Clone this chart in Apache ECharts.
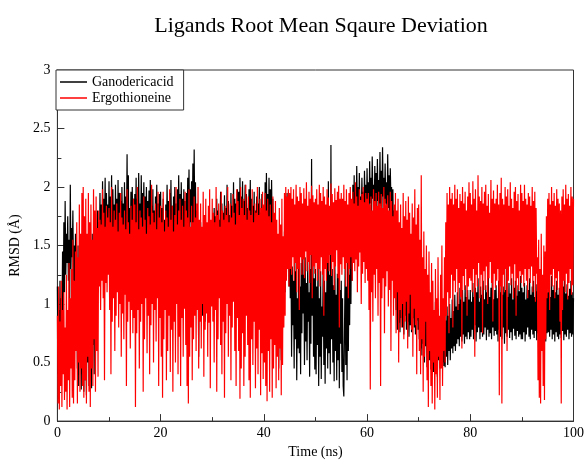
<!DOCTYPE html>
<html>
<head>
<meta charset="utf-8">
<script src="https://cdn.jsdelivr.net/npm/echarts@6/dist/echarts.min.js"></script>
<style>
  html, body { margin: 0; padding: 0; background: #fff; }
  #chart { width: 587px; height: 464px; }
</style>
</head>
<body>
<div id="chart"></div>
<script>
  // time step between samples (ns)
  var timeStep = 0.125
  var seriesNames = ['Ganodericacid', 'Ergothioneine']
  var xTicks = [0, 20, 40, 60, 80, 100]
  var yTicks = [0, 0.5, 1, 1.5, 2, 2.5, 3]

  // RMSD of Ganodericacid (4 lines = 5 ns)
  var ganodericacid = [
    1.15, 0.40, 0.95, 0.30, 1.20, 0.55, 1.05, 0.80, 1.45, 0.90,
    1.70, 1.10, 1.88, 1.25, 1.60, 1.35, 1.75, 1.20, 1.55, 0.95,
    2.02, 1.30, 1.65, 1.40, 1.80, 1.20, 1.50, 0.85, 1.60, 0.70,
    1.35, 0.45, 1.50, 0.30, 1.20, 0.55, 0.95, 0.27, 1.30, 0.40,
    1.10, 0.25, 1.40, 0.35, 0.90, 0.22, 1.25, 0.50, 1.55, 0.30,
    1.05, 0.45, 1.35, 0.28, 1.60, 0.65, 1.20, 0.40, 1.50, 0.80,
    1.65, 0.95, 1.80, 1.10, 1.70, 1.30, 1.95, 1.25, 1.85, 1.45,
    2.05, 1.35, 1.90, 1.55, 2.08, 1.40, 1.95, 1.60, 1.85, 1.50,
    2.05, 1.45, 1.92, 1.60, 2.10, 1.35, 1.98, 1.55, 1.85, 1.40,
    2.02, 1.62, 1.90, 1.30, 2.06, 1.50, 1.95, 1.65, 1.88, 1.42,
    2.00, 1.58, 1.86, 1.35, 2.04, 1.50, 1.92, 1.60, 2.28, 1.45,
    2.10, 1.30, 1.82, 1.55, 1.96, 1.40, 2.00, 1.65, 1.90, 1.48,
    1.94, 1.52, 2.08, 1.38, 1.90, 1.60, 2.12, 1.45, 1.86, 1.58,
    2.10, 1.50, 1.95, 1.66, 2.04, 1.40, 1.92, 1.55, 2.00, 1.32,
    1.88, 1.60, 1.97, 1.48, 2.06, 1.54, 1.84, 1.42, 1.98, 1.25,
    1.80, 1.50, 1.92, 1.38, 2.02, 1.55, 1.86, 1.30, 1.94, 1.46,
    1.96, 1.30, 1.82, 1.22, 1.90, 1.40, 1.72, 1.26, 1.85, 1.48,
    2.02, 1.55, 1.88, 1.35, 1.95, 1.62, 2.06, 1.50, 1.84, 1.40,
    1.92, 1.58, 2.00, 1.44, 1.86, 1.38, 1.98, 1.56, 2.10, 1.64,
    1.94, 1.50, 2.04, 1.60, 1.90, 1.46, 1.98, 1.52, 1.88, 1.48,
    1.95, 1.58, 2.08, 1.66, 2.15, 1.52, 1.98, 1.70, 2.05, 1.60,
    2.20, 1.55, 2.32, 1.62, 2.04, 1.45, 1.80, 1.30, 1.65, 0.55,
    1.40, 0.95, 1.70, 1.05, 1.50, 0.90, 1.62, 1.10, 1.38, 0.85,
    1.58, 0.98, 1.45, 1.12, 1.66, 0.92, 1.35, 1.05, 1.55, 1.20,
    1.30, 1.68, 1.20, 1.82, 1.42, 1.75, 1.48, 1.90, 1.35, 1.80,
    1.55, 1.72, 1.62, 1.96, 1.40, 1.86, 1.52, 1.78, 1.58, 1.93,
    1.36, 1.82, 1.48, 2.02, 1.44, 1.88, 1.60, 1.76, 1.38, 1.95,
    1.55, 1.84, 1.46, 2.04, 1.50, 1.90, 1.42, 1.86, 1.62, 1.98,
    1.58, 1.96, 1.42, 2.08, 1.55, 1.92, 1.66, 2.05, 1.48, 1.88,
    1.70, 2.02, 1.52, 1.94, 1.62, 1.82, 1.45, 1.98, 1.58, 2.06,
    1.40, 1.90, 1.64, 1.84, 1.50, 1.96, 1.36, 1.80, 1.56, 1.92,
    1.44, 1.86, 1.62, 2.00, 1.38, 1.78, 1.52, 1.94, 1.34, 1.76,
    1.84, 1.30, 2.04, 1.52, 2.12, 1.62, 1.94, 1.44, 2.08, 1.56,
    1.98, 1.25, 2.06, 1.60, 1.90, 1.38, 1.72, 1.05, 1.55, 0.88,
    1.40, 0.62, 1.25, 0.45, 1.10, 0.70, 0.95, 0.52, 1.45, 0.80,
    1.30, 0.95, 1.62, 1.10, 1.80, 1.25, 1.95, 1.40, 1.70, 1.15,
    1.90, 1.05, 1.45, 0.55, 1.32, 0.82, 1.20, 0.45, 1.38, 0.70,
    1.28, 0.35, 1.05, 0.62, 1.42, 0.58, 1.15, 0.40, 1.35, 0.75,
    1.85, 0.92, 1.25, 0.48, 1.40, 0.68, 1.18, 0.52, 1.36, 0.85,
    1.10, 0.38, 1.30, 0.66, 2.24, 0.90, 1.45, 0.55, 1.22, 0.44,
    1.30, 0.40, 1.15, 0.65, 1.40, 0.30, 1.05, 0.55, 1.28, 0.36,
    0.98, 0.72, 1.34, 0.48, 1.20, 0.32, 1.10, 0.62, 1.38, 0.45,
    2.05, 0.58, 1.25, 0.40, 2.36, 0.70, 1.30, 0.50, 1.16, 0.34,
    1.42, 0.60, 1.08, 0.35, 1.26, 0.52, 1.35, 0.28, 1.12, 0.66,
    1.20, 0.42, 1.05, 0.30, 0.21, 0.75, 1.30, 0.48, 1.15, 0.35,
    1.40, 0.60, 1.25, 0.82, 1.55, 1.00, 1.85, 1.20, 2.02, 1.45,
    2.10, 1.62, 1.95, 1.70, 2.18, 1.76, 2.00, 1.60, 2.12, 1.82,
    1.92, 1.68, 2.08, 1.78, 1.96, 1.72, 2.14, 1.84, 2.02, 1.75,
    2.16, 1.80, 2.04, 1.72, 2.22, 1.86, 2.08, 1.76, 2.26, 1.90,
    2.02, 1.74, 2.18, 1.82, 2.12, 1.70, 2.24, 1.88, 2.06, 1.78,
    2.30, 1.84, 2.14, 1.76, 2.34, 1.92, 2.08, 1.80, 2.20, 1.86,
    2.04, 1.74, 2.28, 1.82, 2.10, 1.70, 2.16, 1.88, 2.00, 1.64,
    1.98, 1.55, 1.80, 1.25, 1.45, 0.95, 1.26, 0.78, 1.18, 0.84,
    1.24, 0.76, 1.12, 0.88, 1.22, 0.80, 1.08, 0.74, 1.20, 0.90,
    1.15, 0.78, 1.25, 0.85, 1.06, 0.72, 1.18, 0.82, 1.10, 0.76,
    1.22, 0.88, 1.04, 0.80, 1.16, 0.74, 1.10, 0.86, 1.20, 0.78,
    1.05, 0.70, 1.15, 0.62, 0.98, 0.56, 1.08, 0.66, 0.92, 0.50,
    1.02, 0.64, 0.88, 0.46, 0.98, 0.58, 1.06, 0.52, 0.90, 0.44,
    0.96, 0.60, 0.84, 0.42, 0.94, 0.55, 1.02, 0.48, 0.88, 0.38,
    0.96, 0.52, 0.86, 0.45, 0.92, 0.58, 1.00, 0.50, 0.82, 0.47,
    0.92, 0.46, 0.86, 0.55, 0.98, 0.48, 0.90, 0.60, 1.00, 0.52,
    0.88, 0.62, 1.04, 0.58, 0.94, 0.64, 1.08, 0.60, 0.98, 0.66,
    1.10, 0.70, 1.00, 0.64, 1.14, 0.72, 1.04, 0.68, 1.12, 0.74,
    1.02, 0.66, 1.16, 0.72, 1.06, 0.70, 1.12, 0.76, 1.04, 0.70,
    1.12, 0.72, 1.02, 0.78, 1.18, 0.70, 1.06, 0.82, 1.14, 0.68,
    1.10, 0.76, 1.22, 0.80, 1.02, 0.70, 1.15, 0.76, 1.08, 0.72,
    1.20, 0.74, 1.04, 0.80, 1.16, 0.69, 1.10, 0.78, 1.26, 0.72,
    1.06, 0.75, 1.14, 0.70, 1.18, 0.80, 1.04, 0.73, 1.12, 0.77,
    1.16, 0.74, 1.05, 0.68, 1.20, 0.78, 1.10, 0.72, 1.25, 0.70,
    1.08, 0.80, 1.15, 0.66, 1.12, 0.75, 1.30, 0.72, 1.06, 0.78,
    1.18, 0.71, 1.09, 0.76, 1.22, 0.69, 1.04, 0.79, 1.14, 0.73,
    1.20, 0.70, 1.07, 0.77, 1.16, 0.72, 1.11, 0.74, 1.24, 0.70,
    1.14, 0.70, 1.10, 0.76, 1.18, 0.68, 1.04, 0.74, 1.16, 0.80,
    1.12, 0.72, 1.22, 0.70, 1.08, 0.78, 1.15, 0.74, 1.20, 0.71,
    1.06, 0.77, 1.17, 0.69, 1.11, 0.75, 1.26, 0.72, 1.05, 0.79,
    1.13, 0.70, 1.19, 0.76, 1.08, 0.73, 1.15, 0.68, 1.21, 0.75,
    1.10, 0.76, 1.18, 0.72, 1.06, 0.78, 1.24, 0.70, 1.12, 0.74,
    1.16, 0.68, 1.10, 0.76, 1.20, 0.72, 1.08, 0.70, 1.14, 0.74,
    1.19, 0.71, 1.05, 0.77, 1.15, 0.69, 1.22, 0.74, 1.09, 0.72,
    1.17, 0.78, 1.07, 0.70, 1.13, 0.75, 1.20, 0.72, 1.10, 0.74,
    1.05
  ]

  // RMSD of Ergothioneine
  var ergothioneine = [
    0.90, 0.15, 1.15, 0.10, 0.85, 0.30, 1.20, 0.12, 0.95, 0.40,
    1.10, 0.18, 0.80, 0.25, 1.25, 0.10, 0.95, 0.35, 1.35, 0.12,
    1.05, 0.45, 1.30, 0.20, 1.55, 0.15, 1.20, 0.35, 1.45, 0.60,
    1.70, 0.15, 1.40, 0.50, 1.85, 0.25, 1.60, 0.45, 1.95, 0.30,
    2.00, 0.20, 1.75, 0.35, 1.90, 0.15, 1.60, 0.55, 1.95, 0.25,
    1.70, 0.12, 1.85, 0.45, 1.55, 0.30, 1.98, 0.70, 1.80, 0.25,
    1.92, 0.60, 1.65, 0.38, 1.80, 1.15, 1.72, 0.95, 1.68, 1.20,
    1.98, 1.05, 1.78, 0.35, 1.66, 1.18, 1.84, 1.10, 1.74, 1.25,
    1.82, 0.95, 1.70, 0.40, 2.00, 0.85, 1.66, 1.05, 1.80, 0.60,
    1.72, 0.90, 1.86, 1.10, 1.62, 0.80, 1.78, 1.00, 1.95, 0.55,
    1.74, 0.92, 1.68, 0.70, 1.80, 1.08, 1.64, 0.30, 1.98, 0.85,
    1.70, 1.02, 1.60, 0.62, 1.84, 0.95, 1.72, 0.75, 1.90, 0.88,
    1.85, 0.12, 1.70, 0.75, 2.00, 0.95, 1.64, 0.45, 1.80, 0.85,
    1.74, 1.00, 1.66, 0.25, 1.92, 0.70, 1.72, 1.05, 1.60, 0.58,
    1.82, 0.90, 1.75, 0.40, 1.68, 0.82, 2.02, 1.00, 1.78, 0.50,
    1.70, 0.95, 1.86, 0.68, 1.64, 1.05, 1.96, 0.30, 1.74, 0.88,
    1.84, 0.55, 1.70, 0.20, 1.96, 0.70, 1.62, 0.95, 1.80, 0.35,
    1.74, 0.60, 1.66, 0.90, 1.98, 0.42, 1.72, 0.78, 1.84, 0.25,
    1.62, 0.85, 1.76, 0.50, 2.00, 1.00, 1.68, 0.40, 1.80, 0.72,
    1.90, 0.30, 1.72, 0.88, 1.84, 0.55, 1.66, 0.96, 1.96, 0.65,
    1.80, 0.30, 1.74, 0.15, 1.98, 0.55, 1.66, 0.80, 1.84, 0.35,
    1.70, 0.70, 1.92, 0.90, 1.74, 0.60, 1.86, 0.95, 2.00, 0.45,
    1.72, 0.85, 1.86, 0.62, 1.66, 1.00, 1.96, 0.38, 1.76, 0.78,
    1.90, 0.92, 1.70, 0.55, 1.84, 0.84, 1.98, 0.28, 1.72, 0.98,
    1.90, 0.85, 1.78, 0.50, 1.70, 0.95, 2.00, 0.25, 1.76, 0.70,
    1.86, 1.05, 1.66, 0.65, 1.96, 0.40, 1.80, 0.85, 1.72, 0.20,
    1.84, 0.75, 1.76, 1.00, 2.00, 0.55, 1.70, 0.90, 1.86, 0.35,
    1.74, 0.80, 1.94, 1.02, 1.78, 0.60, 1.68, 0.30, 1.98, 0.88,
    1.88, 0.60, 1.76, 0.19, 2.00, 0.45, 1.82, 0.75, 1.90, 0.30,
    1.76, 0.55, 2.02, 0.90, 1.72, 0.65, 1.92, 0.35, 1.80, 0.20,
    1.76, 0.70, 1.98, 0.48, 1.70, 0.85, 1.86, 0.28, 1.78, 0.62,
    2.00, 0.40, 1.76, 0.78, 1.90, 0.22, 1.82, 0.58, 1.96, 0.36,
    1.85, 0.50, 1.95, 0.30, 1.80, 0.17, 1.90, 0.60, 1.75, 0.25,
    1.85, 0.70, 1.70, 0.20, 1.92, 0.45, 1.78, 0.65, 1.88, 0.28,
    1.72, 0.55, 1.60, 0.35, 1.82, 0.62, 1.68, 0.22, 1.90, 0.48,
    1.58, 0.80, 1.95, 0.90, 2.00, 1.20, 1.92, 1.30, 1.98, 1.15,
    1.95, 1.30, 2.00, 1.25, 1.90, 1.40, 1.98, 1.20, 1.85, 1.35,
    2.02, 1.10, 1.92, 1.30, 1.88, 0.95, 2.00, 1.40, 1.95, 1.25,
    1.86, 1.38, 1.99, 1.22, 1.90, 1.45, 2.04, 1.28, 1.84, 1.36,
    1.96, 1.18, 1.90, 1.42, 2.01, 1.05, 1.93, 1.32, 1.87, 1.26,
    1.90, 1.35, 1.98, 1.20, 1.85, 1.30, 2.02, 1.15, 1.95, 1.40,
    1.88, 1.25, 2.00, 0.90, 1.92, 1.30, 1.85, 1.20, 1.98, 1.35,
    1.91, 1.28, 1.84, 1.42, 2.03, 1.24, 1.94, 1.36, 1.87, 1.12,
    1.99, 1.32, 1.89, 1.46, 1.96, 1.22, 2.01, 0.80, 1.90, 1.34,
    1.95, 1.25, 1.90, 1.40, 2.02, 1.30, 1.88, 1.15, 1.98, 1.35,
    1.85, 1.05, 1.95, 1.30, 2.00, 1.40, 1.90, 1.20, 1.96, 1.35,
    1.86, 1.28, 2.04, 1.38, 1.92, 1.10, 1.84, 1.32, 1.98, 1.44,
    1.89, 1.00, 1.94, 1.26, 2.00, 1.36, 1.87, 1.18, 1.95, 1.30,
    1.90, 1.20, 1.95, 0.95, 1.85, 0.27, 1.92, 1.10, 1.80, 0.85,
    1.98, 1.25, 1.88, 1.05, 1.95, 1.30, 1.84, 0.90, 1.96, 1.18,
    1.86, 0.30, 1.94, 1.05, 1.82, 1.22, 2.00, 0.75, 1.90, 1.15,
    1.85, 1.28, 1.93, 0.98, 1.80, 1.12, 1.96, 0.60, 1.88, 1.20,
    1.75, 0.90, 1.85, 1.05, 1.95, 0.75, 1.80, 1.10, 1.90, 0.50,
    1.70, 0.95, 1.85, 0.80, 1.65, 1.00, 1.95, 0.70, 1.75, 0.85,
    1.88, 1.02, 1.72, 0.62, 1.92, 0.92, 1.78, 1.08, 1.60, 0.78,
    1.86, 0.55, 1.74, 0.96, 1.98, 0.82, 1.68, 0.40, 1.82, 0.88,
    1.85, 0.60, 1.55, 0.40, 2.10, 0.70, 1.40, 0.25, 1.62, 0.55,
    1.30, 0.85, 1.50, 0.35, 1.25, 0.12, 1.45, 0.60, 1.10, 0.30,
    1.35, 0.15, 1.20, 0.50, 0.95, 0.10, 1.30, 0.40, 1.05, 0.20,
    1.40, 0.55, 0.90, 0.18, 1.25, 0.45, 1.50, 0.30, 1.05, 0.60,
    1.40, 0.50, 1.70, 0.90, 1.95, 1.10, 1.85, 0.75, 2.00, 1.05,
    1.90, 1.25, 1.95, 0.80, 1.85, 1.20, 2.02, 1.10, 1.90, 1.30,
    1.98, 0.95, 1.82, 1.18, 1.94, 1.06, 1.88, 0.62, 2.00, 1.24,
    1.86, 1.12, 1.96, 1.30, 1.80, 0.90, 1.92, 1.15, 2.04, 1.22,
    1.95, 1.20, 1.85, 1.10, 2.05, 1.30, 1.90, 0.55, 1.98, 1.25,
    1.80, 1.15, 2.10, 1.35, 1.92, 1.05, 1.88, 1.25, 2.00, 0.75,
    1.86, 1.28, 1.96, 1.12, 2.02, 1.32, 1.84, 1.00, 1.94, 1.22,
    1.78, 1.36, 2.06, 1.18, 1.90, 0.85, 1.97, 1.26, 1.86, 1.14,
    1.90, 1.20, 2.02, 1.30, 1.85, 0.22, 1.95, 1.15, 2.08, 0.15,
    1.90, 1.25, 1.85, 1.10, 2.00, 1.30, 1.92, 0.60, 1.98, 1.20,
    1.84, 1.32, 2.04, 1.16, 1.90, 1.26, 1.82, 1.05, 1.96, 1.34,
    2.00, 0.90, 1.88, 1.22, 1.94, 1.12, 1.80, 1.28, 2.02, 1.18,
    1.95, 1.25, 1.88, 1.15, 2.02, 1.30, 1.90, 1.20, 1.85, 1.05,
    1.95, 1.30, 1.92, 1.18, 1.84, 1.32, 2.00, 1.10, 1.88, 1.24,
    1.96, 1.02, 1.82, 1.26, 1.40, 0.35, 1.55, 0.20, 1.30, 0.15,
    1.60, 0.60, 1.25, 0.30, 1.50, 0.18, 1.45, 0.70, 1.75, 1.05,
    1.90, 1.10, 1.95, 0.95, 1.85, 1.25, 2.00, 1.15, 1.88, 1.30,
    1.95, 1.05, 1.84, 1.22, 1.98, 1.12, 1.90, 1.28, 1.86, 0.85,
    1.80, 0.15, 1.92, 0.95, 1.98, 1.20, 1.85, 1.10, 2.02, 1.26,
    1.90, 1.04, 1.94, 1.18, 1.84, 1.30, 2.00, 1.08, 1.92, 1.16,
    1.90
  ]

  function toPairs(values) {
    return values.map(function (v, i) { return [i * timeStep, v] })
  }

  var serifFont = '"Liberation Serif", "DejaVu Serif", serif'

  var myChart = echarts.init(document.getElementById('chart'))
  myChart.setOption({
    animation: false,
    backgroundColor: '#fff',
    title: {
      text: 'Ligands Root Mean Sqaure Deviation',
      left: 316,
      top: 10,
      textAlign: 'center',
      textStyle: {
        fontFamily: serifFont,
        fontWeight: 'normal',
        fontSize: 22,
        color: '#000'
      }
    },
    legend: {
      data: seriesNames,
      orient: 'vertical',
      left: 56,
      top: 70,
      icon: 'rect',
      itemWidth: 27,
      itemHeight: 1.5,
      itemGap: 2,
      padding: [5, 10, 5, 4],
      borderColor: '#333',
      borderWidth: 1,
      backgroundColor: '#fff',
      textStyle: {
        fontFamily: serifFont,
        fontSize: 14,
        color: '#000'
      }
    },
    grid: {
      left: 56,
      right: 11,
      top: 70,
      bottom: 31,
      show: true,
      borderColor: '#333',
      borderWidth: 1,
      backgroundColor: 'transparent'
    },
    xAxis: {
      type: 'value',
      min: xTicks[0],
      max: xTicks[xTicks.length - 1],
      interval: xTicks[1] - xTicks[0],
      name: 'Time (ns)',
      nameLocation: 'middle',
      nameGap: 22,
      nameTextStyle: { fontFamily: serifFont, fontSize: 14, color: '#000' },
      axisLine: { lineStyle: { color: '#333', width: 1 } },
      axisTick: { inside: true, length: 7, lineStyle: { color: '#333' } },
      minorTick: { show: true, splitNumber: 2, length: 4, lineStyle: { color: '#333' } },
      axisLabel: { fontFamily: serifFont, fontSize: 14, color: '#000', margin: 5 },
      splitLine: { show: false }
    },
    yAxis: {
      type: 'value',
      min: yTicks[0],
      max: yTicks[yTicks.length - 1],
      interval: yTicks[1] - yTicks[0],
      name: 'RMSD (Å)',
      nameLocation: 'middle',
      nameGap: 28,
      nameTextStyle: { fontFamily: serifFont, fontSize: 14, color: '#000' },
      axisLine: { lineStyle: { color: '#333', width: 1 } },
      axisTick: { inside: true, length: 7, lineStyle: { color: '#333' } },
      minorTick: { show: true, splitNumber: 2, length: 4, lineStyle: { color: '#333' } },
      axisLabel: { fontFamily: serifFont, fontSize: 14, color: '#000', margin: 7 },
      splitLine: { show: false }
    },
    series: [
      {
        name: seriesNames[0],
        type: 'line',
        data: toPairs(ganodericacid),
        showSymbol: false,
        color: '#000',
        lineStyle: { width: 1.2, color: '#000' }
      },
      {
        name: seriesNames[1],
        type: 'line',
        data: toPairs(ergothioneine),
        showSymbol: false,
        color: '#ff0000',
        lineStyle: { width: 1.2, color: '#ff0000' }
      }
    ]
  })
</script>
</body>
</html>
